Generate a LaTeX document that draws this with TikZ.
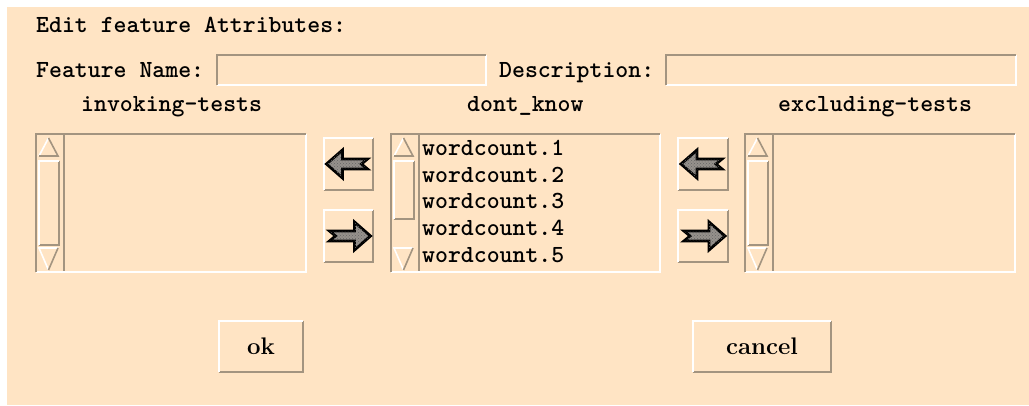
\documentclass[tikz,border=0pt]{standalone}
\usetikzlibrary{patterns}
\definecolor{bg}{RGB}{255,228,196}
\definecolor{dk}{RGB}{163,148,128}
\definecolor{arrfill}{RGB}{150,145,140}
\newcommand\guibevel[6]{%
  \draw[#6,line width=2.2pt] (#1+1,#4-1) -- (#3-1,#4-1) -- (#3-1,#2+1);
  \draw[#5,line width=2.2pt] (#1+1,#4-1) -- (#1+1,#2+1) -- (#3-1,#2+1);
}
\newcommand\guilist[6]{%
  \guibevel{#1}{#2}{#3}{#4}{dk}{white}
  \fill[dk] (#1+28,#2+1) rectangle (#1+30,#4-2);
  \draw[white,line width=1.6pt] (#1+4,#2+23) -- (#1+13.5,#2+5);
  \draw[dk,line width=1.6pt] (#1+13.5,#2+5) -- (#1+23,#2+23) -- (#1+4,#2+23);
  \guibevel{#1+3}{#5}{#1+25}{#6}{white}{dk}
  \draw[white,line width=1.6pt] (#1+13.5,#4-3) -- (#1+4,#4-25) -- (#1+23,#4-25);
  \draw[dk,line width=1.6pt] (#1+23,#4-25) -- (#1+13.5,#4-3);
}
\newcommand\guiarrow[3]{%
  \draw[arr,shift={(#1,#2)},xscale=#3] (-22,0) -- (-6,-14) -- (-6,-5) -- (19,-5) -- (13,0) -- (19,5) -- (-6,5) -- (-6,14) -- cycle;
}
\tikzset{
  lbl/.style={inner sep=0pt, anchor=base west, font=\fontsize{24.6}{24.6}\selectfont\ttfamily\bfseries},
  btxt/.style={inner sep=0pt, anchor=base, font=\fontsize{24}{24}\selectfont\bfseries},
  arr/.style={draw=black, line width=2.8pt, line join=miter, fill=arrfill,
    postaction={pattern=crosshatch dots, pattern color=black!60}},
}
\begin{document}
\begin{tikzpicture}[x=1pt,y=-1pt]
\useasboundingbox (0,0) rectangle (1029,405);
\fill[white] (0,0) rectangle (1029,405);
\fill[bg] (7,7) rectangle (1029,405);

% title and field labels
\node[lbl] (title) at (36,32) {Edit feature Attributes:};
\node[lbl] (fname) at (36,77) {Feature Name:};
\node[lbl] (desc) at (499,77) {Description:};
\guibevel{216}{54}{487}{86}{dk}{white}
\guibevel{665}{54}{1017}{86}{dk}{white}

% list headings
\node[lbl] (inv) at (81,111) {invoking-tests};
\node[lbl] (dk) at (467,111) {dont\_know};
\node[lbl] (exc) at (778,111) {excluding-tests};

% lists
\guilist{35}{133}{307}{273}{160}{246}
\guilist{390}{133}{661}{273}{160}{220}
\guilist{744}{133}{1016}{273}{160}{246}

\node[lbl] (w1) at (422,155) {wordcount.1};
\node[lbl] (w2) at (422,182) {wordcount.2};
\node[lbl] (w3) at (422,208.5) {wordcount.3};
\node[lbl] (w4) at (422,235) {wordcount.4};
\node[lbl] (w5) at (422,262) {wordcount.5};

% arrow buttons
\guibevel{323}{137}{374}{191}{white}{dk}
\guibevel{323}{209}{374}{263}{white}{dk}
\guibevel{677}{137}{729}{191}{white}{dk}
\guibevel{677}{209}{729}{263}{white}{dk}
\guiarrow{348.5}{164}{1}
\guiarrow{348.5}{236}{-1}
\guiarrow{703}{164}{1}
\guiarrow{703}{236}{-1}

% ok / cancel
\guibevel{218}{320}{304}{373}{white}{dk}
\guibevel{692}{320}{832}{373}{white}{dk}
\node[btxt] (ok) at (261,354) {ok};
\node[btxt] (cancel) at (762,354) {cancel};
\end{tikzpicture}
\end{document}
